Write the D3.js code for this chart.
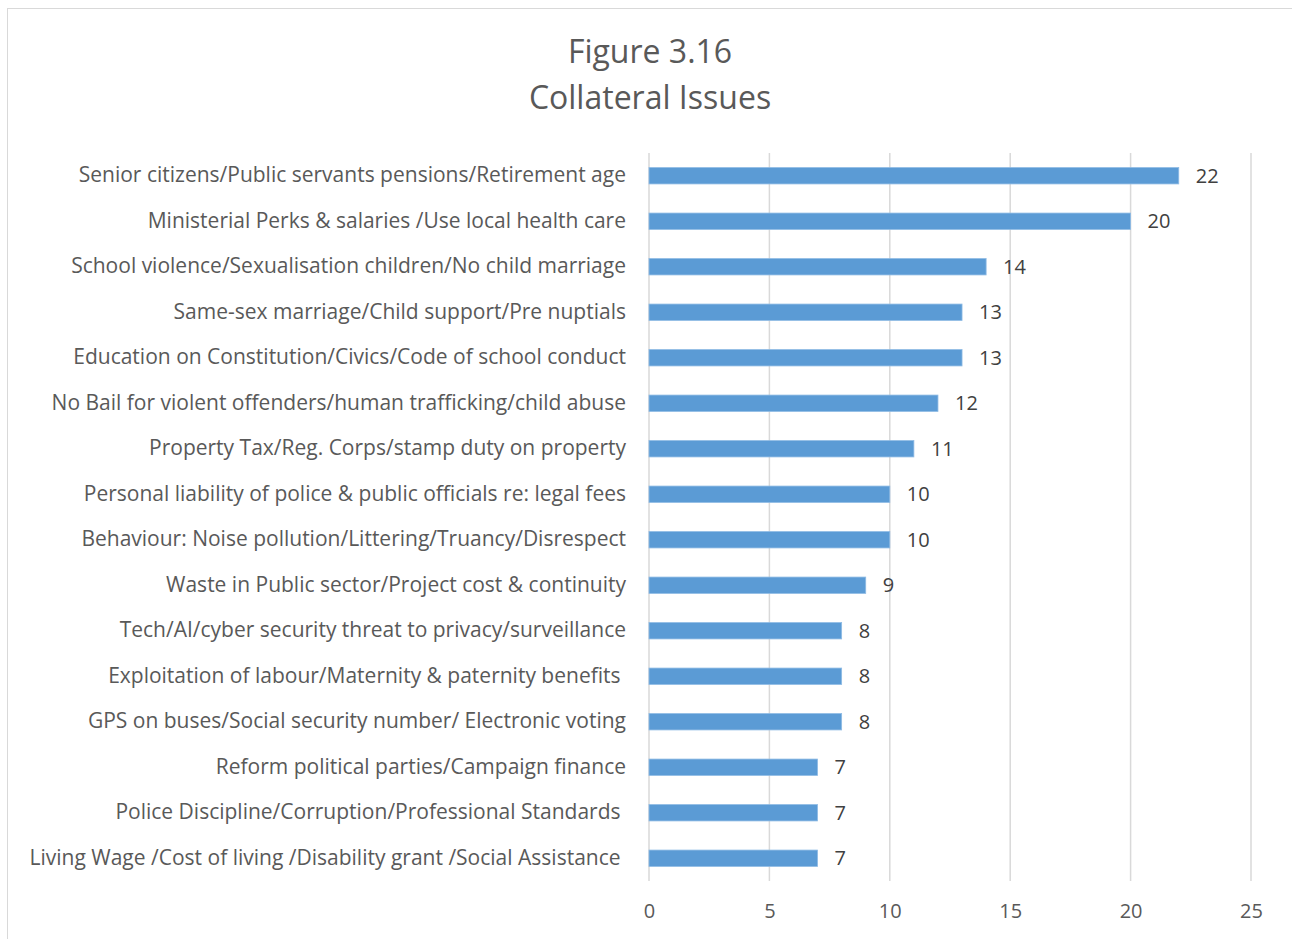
<!DOCTYPE html>
<html>
<head>
<meta charset="utf-8">
<script src="https://cdn.jsdelivr.net/npm/d3@7"></script>
<style>
  body { margin: 0; background: #fff; }
  svg text { font-family: "Open Sans", "Noto Sans", sans-serif; }
</style>
</head>
<body>
<div id="chart"></div>
<script>
// Collateral issues chart (Figure 3.16)
const titleLines = ['Figure 3.16', 'Collateral Issues'];

const categories = [
  'Senior citizens/Public servants pensions/Retirement age',
  'Ministerial Perks & salaries /Use local health care',
  'School violence/Sexualisation children/No child marriage',
  'Same-sex marriage/Child support/Pre nuptials',
  'Education on Constitution/Civics/Code of school conduct',
  'No Bail for violent offenders/human trafficking/child abuse',
  'Property Tax/Reg. Corps/stamp duty on property',
  'Personal liability of police & public officials re: legal fees',
  'Behaviour: Noise pollution/Littering/Truancy/Disrespect',
  'Waste in Public sector/Project cost & continuity',
  'Tech/AI/cyber security threat to privacy/surveillance',
  'Exploitation of labour/Maternity & paternity benefits ',
  'GPS on buses/Social security number/ Electronic voting',
  'Reform political parties/Campaign finance',
  'Police Discipline/Corruption/Professional Standards ',
  'Living Wage /Cost of living /Disability grant /Social Assistance '
];
const values = [22, 20, 14, 13, 13, 12, 11, 10, 10, 9, 8, 8, 8, 7, 7, 7];
const xTicks = [0, 5, 10, 15, 20, 25];

const width = 1292, height = 939;
const plot = { left: 649, right: 1251, top: 153, bottom: 881 };

const svg = d3.select('#chart').append('svg')
  .attr('width', width)
  .attr('height', height);

// outer frame
svg.append('rect')
  .attr('x', 7.5).attr('y', 8.5)
  .attr('width', width - 7).attr('height', height - 7)
  .attr('fill', '#fff')
  .attr('stroke', '#d9d9d9');

svg.append('g').selectAll('text')
  .data(titleLines)
  .join('text')
  .attr('x', 650)
  .attr('y', (d, i) => 63 + i * 46)
  .attr('text-anchor', 'middle')
  .attr('fill', '#595959')
  .attr('font-size', 32)
  .text(d => d);

const x = d3.scaleLinear().domain([0, 25]).range([plot.left, plot.right]);
const y = d3.scaleBand().domain(categories).range([plot.top, plot.bottom]).paddingInner(0.64).paddingOuter(0.32);

// gridlines
svg.append('g').selectAll('line')
  .data(xTicks)
  .join('line')
  .attr('x1', d => x(d)).attr('x2', d => x(d))
  .attr('y1', plot.top).attr('y2', plot.bottom)
  .attr('stroke', '#d9d9d9')
  .attr('stroke-width', 1.5);

// x axis labels
const xAxis = d3.axisBottom(x).tickValues(xTicks).tickSize(0).tickPadding(0);
const gx = svg.append('g')
  .attr('transform', `translate(0,${plot.bottom})`)
  .call(xAxis);
gx.select('.domain').remove();
gx.selectAll('text')
  .attr('dy', null)
  .attr('y', 37)
  .attr('fill', '#595959')
  .attr('font-size', 20)
  .style('font-family', '"Open Sans", "Noto Sans", sans-serif');

// y axis labels
const yAxis = d3.axisLeft(y).tickSize(0).tickPadding(23);
const gy = svg.append('g')
  .attr('transform', `translate(${plot.left},0)`)
  .call(yAxis);
gy.select('.domain').remove();
gy.selectAll('text')
  .attr('fill', '#595959')
  .attr('font-size', 21)
  .style('white-space', 'pre')
  .style('font-family', '"Open Sans", "Noto Sans", sans-serif');

// bars
svg.append('g').selectAll('rect')
  .data(values)
  .join('rect')
  .attr('x', x(0))
  .attr('y', (d, i) => y(categories[i]))
  .attr('width', d => x(d) - x(0))
  .attr('height', y.bandwidth())
  .attr('fill', '#5b9bd5')
  .attr('stroke', '#8fbbe4')
  .attr('stroke-width', 0.8);

// value labels
svg.append('g').selectAll('text')
  .data(values)
  .join('text')
  .attr('x', d => x(d) + 17)
  .attr('y', (d, i) => y(categories[i]) + y.bandwidth() / 2)
  .attr('dy', '0.36em')
  .attr('fill', '#404040')
  .attr('font-size', 20)
  .text(d => d);
</script>
</body>
</html>
